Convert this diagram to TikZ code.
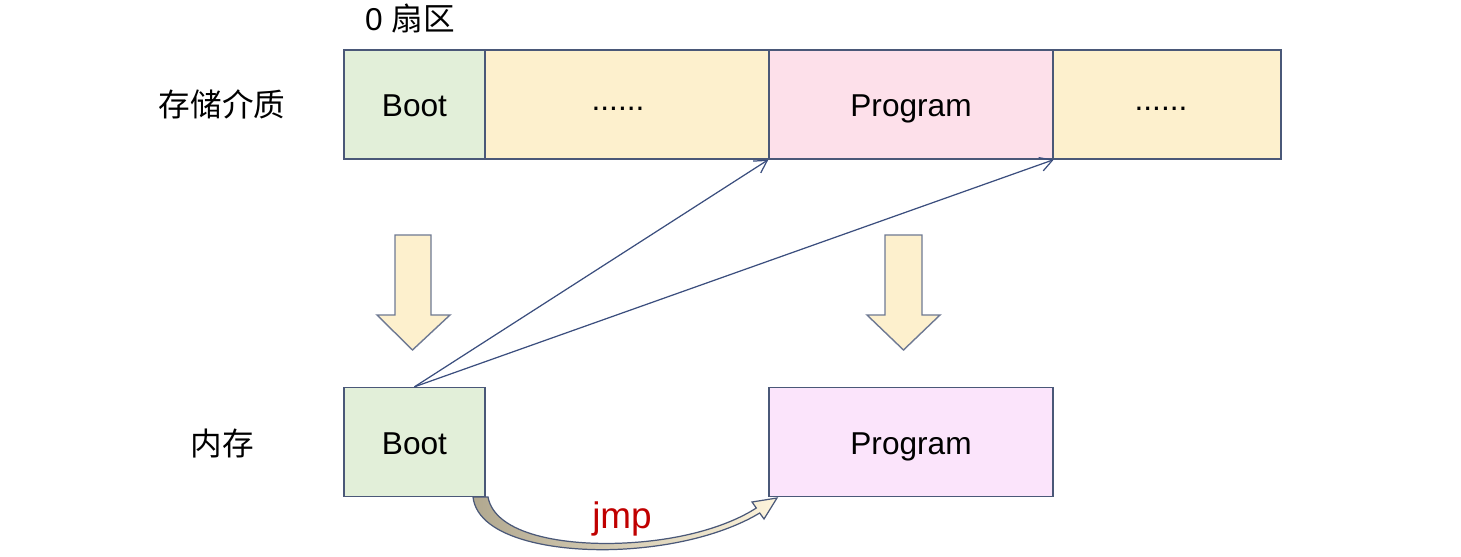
\documentclass[tikz,border=0pt]{standalone}
\usepackage{fontspec}
\setmainfont{Liberation Sans}
\newfontfamily\cjk{Noto Sans CJK SC}
\usetikzlibrary{arrows.meta, positioning, calc}

\definecolor{edgeblue}{HTML}{4A5878}
\definecolor{bootgreen}{HTML}{E2EFD9}
\definecolor{dotsyellow}{HTML}{FDF0CD}
\definecolor{progpink}{HTML}{FDE0EA}
\definecolor{progmem}{HTML}{FBE4FB}
\definecolor{linkblue}{HTML}{3B4E7E}
\definecolor{jmpred}{HTML}{C00000}

\begin{document}
\begin{tikzpicture}[
    x=0.02cm, y=-0.02cm,
    cell/.style={rectangle, draw=edgeblue, line width=0.8pt, minimum height=2.18cm, inner sep=0pt, text height=14pt, text depth=0pt, align=center, font=\fontsize{18}{20}\selectfont},
    rowlabel/.style={font=\cjk\fontsize{18}{20}\selectfont},
    bigarrow/.style={draw=edgeblue!80, line width=0.8pt, fill=dotsyellow, line join=miter},
    link/.style={-{Straight Barb[length=7pt, width=8pt]}, line width=0.7pt, draw=linkblue}
]
\useasboundingbox (0,0) rectangle (1461,557);

% ==================== Storage medium (top row) ====================
\node[cell, fill=bootgreen, minimum width=2.82cm] (bootDisk) at (414.5,104.5) {Boot};
\node[cell, fill=dotsyellow, minimum width=5.68cm] (dotsA) at (627,104.5) {\raisebox{3.3pt}{......}\hspace{0.36cm}};
\node[cell, fill=progpink, minimum width=5.68cm] (progDisk) at (911,104.5) {Program};
\node[cell, fill=dotsyellow, minimum width=4.56cm] (dotsB) at (1167,104.5) {\raisebox{3.3pt}{......}\hspace{0.24cm}};

\node[font=\fontsize{18}{20}\selectfont] (sector) at (410,18) {0 {\cjk 扇区}};
\node[rowlabel] (diskLabel) at (222,104) {存储介质};

% ==================== Memory (bottom row) ====================
\node[cell, fill=bootgreen, minimum width=2.82cm] (bootMem) at (414.5,442) {Boot};
\node[cell, fill=progmem, minimum width=5.68cm] (progMem) at (911,442) {Program};

\node[rowlabel] (memLabel) at (222,444) {内存};

% ==================== Load arrows ====================
\draw[bigarrow] (395,235) -- (431,235) -- (431,315) -- (450,315) -- (412.5,350) -- (377,315) -- (395,315) -- cycle;
\draw[bigarrow] (885,235) -- (922,235) -- (922,315) -- (940,315) -- (903.5,350) -- (867,315) -- (885,315) -- cycle;

% Boot reads the program sectors
\draw[link] (bootMem.north) -- (progDisk.south west);
\draw[link] (bootMem.north) -- (progDisk.south east);

% ==================== jmp ====================
\shade[left color=black!30!dotsyellow, right color=dotsyellow!70, draw=edgeblue, line width=0.7pt]
  (488,497) -- (473,497)
  .. controls (478,540) and (560,553) .. (625,549)
  .. controls (690,545) and (735,528) .. (759.7,513)
  -- (764,519) -- (777,498) -- (752,502) -- (756.3,508)
  .. controls (730,525) and (685,540) .. (625,543)
  .. controls (565,546) and (495,535) .. (488,497) -- cycle;
\node[text=jmpred, font=\fontsize{21}{24}\selectfont] (jmpLabel) at (622,519) {jmp};

\end{tikzpicture}
\end{document}
